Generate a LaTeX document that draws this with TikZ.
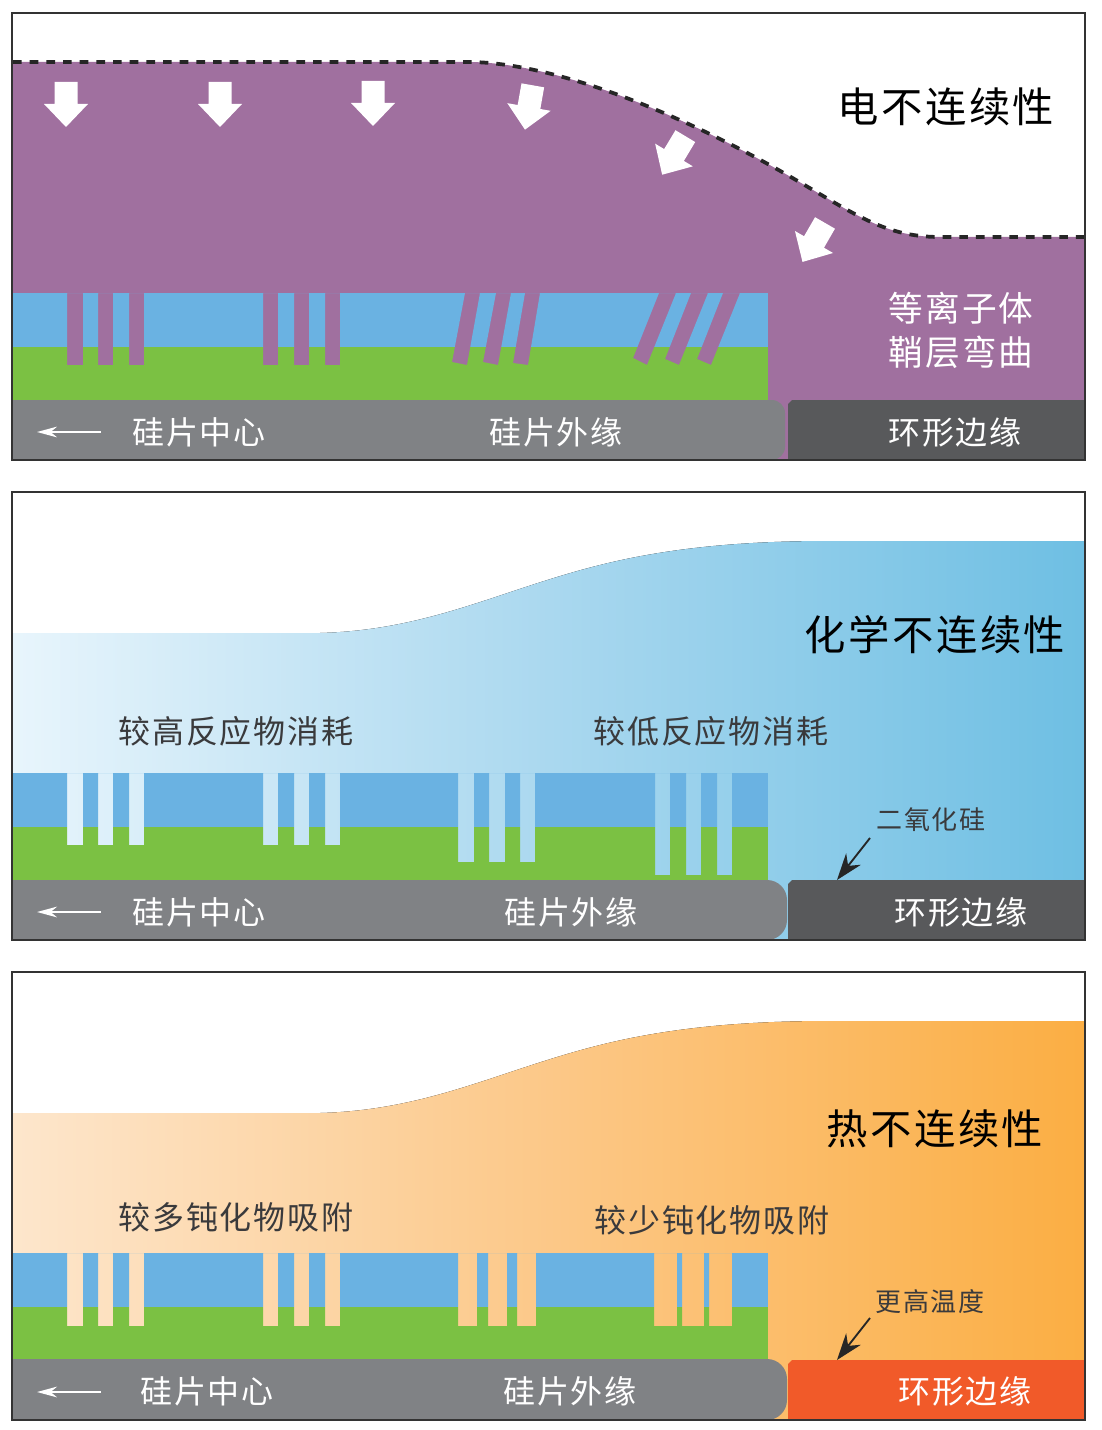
\documentclass[tikz,border=0pt]{standalone}
\usepackage{fontspec}
\setmainfont{Noto Sans CJK SC}[LetterSpace=6]
\usetikzlibrary{arrows.meta}
\definecolor{plasma}{HTML}{A0709F}
\definecolor{oxide}{HTML}{6AB2E2}
\definecolor{silicon}{HTML}{7BC143}
\definecolor{wafergrey}{HTML}{808285}
\definecolor{ringgrey}{HTML}{58595B}
\definecolor{ringhot}{HTML}{F15A29}
\definecolor{framecol}{HTML}{333333}
\definecolor{inkcol}{HTML}{3A3A3C}
\definecolor{lightblue}{HTML}{E8F5FC}
\definecolor{midblue}{HTML}{AAD8EF}
\definecolor{fieldblue}{HTML}{6EBFE3}
\definecolor{lightorange}{HTML}{FDE6CC}
\definecolor{midorange}{HTML}{FCC888}
\definecolor{fieldorange}{HTML}{FBAE43}
\tikzset{
  panelframe/.style={draw=framecol,line width=1.5pt},
  title/.style={font=\fontsize{31}{37}\selectfont,text=black,inner sep=0},
  label/.style={font=\fontsize{24}{29}\selectfont,text=inkcol,inner sep=0},
  smalllabel/.style={font=\fontsize{19.5}{24}\selectfont,text=inkcol,inner sep=0},
  onwafer/.style={font=\fontsize{24}{29}\selectfont,text=white,inner sep=0},
  sheath/.style={font=\fontsize{26}{31}\selectfont,text=white,inner sep=0},
  backarrow/.style={draw=white,line width=1.8pt,-{Stealth[length=15pt,width=8pt]}},
  pointer/.style={draw=black!85,line width=1.4pt,-{Stealth[length=20pt,width=14pt]}},
  bluefield/.style={left color=lightblue,right color=fieldblue,middle color=midblue},
  orangefield/.style={left color=lightorange,right color=fieldorange,middle color=midorange},
}
\newcommand{\waferstack}[2]{%
\begin{scope}[shift={(0,#1)},even odd rule]%
\clip (13,0) rectangle (768,107) #2;%
\fill[oxide] (13,0) rectangle (768,54);%
\fill[silicon] (13,54) rectangle (768,107);%
\end{scope}%
}
\newcommand{\platearrow}[3]{%
\fill[white,shift={(#1,#2)},rotate=#3] (-11.5,-22) -- (11.5,-22) -- (11.5,0) -- (22,0) -- (0,23) -- (-22,0) -- (-11.5,0) -- cycle;%
}
\newcommand{\straightgaps}[1]{%
(67,0) rectangle (83,#1) (98,0) rectangle (113,#1) (129,0) rectangle (144,#1)%
(263,0) rectangle (278,#1) (294,0) rectangle (309,#1) (325,0) rectangle (340,#1)%
}

\begin{document}
\begin{tikzpicture}[x=0.75pt,y=-0.75pt]%
\useasboundingbox (0,0) rectangle (1101,1430);%
\fill[white] (0,0) rectangle (1101,1430);%
\fill[plasma] (13,62) -- (470,62) .. controls (555,63) and (675,112) .. (775,168) .. controls (850,210) and (880,237) .. (940,237) -- (1085,237) -- (1085,460) -- (13,460) -- cycle;%
\draw[black!85,line width=2.8pt,dash pattern=on 6.5pt off 6pt] (13,62) -- (470,62) .. controls (555,63) and (675,112) .. (775,168) .. controls (850,210) and (880,237) .. (940,237) -- (1085,237);%
\platearrow{66}{104}{0}%
\platearrow{220}{104}{0}%
\platearrow{373}{103}{0}%
\platearrow{529}{107}{-10}%
\platearrow{674}{155}{-31}%
\platearrow{814}{242}{-30}%
\waferstack{293}{\straightgaps{72} (465,0) -- (480,0) -- (467,72) -- (452,69) -- cycle (496,0) -- (511,0) -- (498,72) -- (483,69) -- cycle (525,0) -- (540,0) -- (528,72) -- (513,70) -- cycle (659,0) -- (676,0) -- (647,72) -- (633,65) -- cycle (691,0) -- (708,0) -- (679,72) -- (665,66) -- cycle (723,0) -- (740,0) -- (711,72) -- (697,66) -- cycle}%
\fill[wafergrey] (13,400) -- (700,400) [rounded corners=10pt] -- (785,400) -- (785,460) -- (700,460) [sharp corners] -- (13,460) -- cycle;%
\fill[ringgrey] (788,460) -- (788,404) -- (792,400) -- (1085,400) -- (1085,460) -- cycle;%
\draw[panelframe] (12,13) rectangle (1085,460);%
\node[title] (elec) at (946,107) {电不连续性};%
\node[sheath] (sheathtop) at (961,308) {等离子体};%
\node[sheath] (sheathlow) at (961,352) {鞘层弯曲};%
\coordinate (backa) at (101,432);%
\coordinate (backb) at (37,432);%
\draw[backarrow] (backa) -- (backb);%
\node[onwafer] (centera) at (199,432) {硅片中心};%
\node[onwafer] (outera) at (556,432) {硅片外缘};%
\node[onwafer] (ringa) at (955,432) {环形边缘};%
\fill[bluefield] (13,633) -- (320,633) .. controls (430,630) and (500,590) .. (600,565) .. controls (680,545) and (760,541) .. (830,541) -- (1085,541) -- (1085,940) -- (13,940) -- cycle;%
\waferstack{773}{\straightgaps{72} (458,0) rectangle (474,89) (489,0) rectangle (505,89) (520,0) rectangle (535,89) (655,0) rectangle (670,102) (686,0) rectangle (701,102) (717,0) rectangle (732,102)}%
\fill[wafergrey] (13,880) -- (700,880) [rounded corners=15pt] -- (787,880) -- (787,940) -- (700,940) [sharp corners] -- (13,940) -- cycle;%
\fill[ringgrey] (788,940) -- (788,884) -- (792,880) -- (1085,880) -- (1085,940) -- cycle;%
\draw[panelframe] (12,492) rectangle (1085,940);%
\node[title] (chem) at (935,635) {化学不连续性};%
\node[label] (highuse) at (236,731) {较高反应物消耗};%
\node[label] (lowuse) at (711,731) {较低反应物消耗};%
\node[smalllabel] (oxidelabel) at (931,820) {二氧化硅};%
\coordinate (oxidefrom) at (870,838);%
\coordinate (oxideto) at (837,880);%
\draw[pointer] (oxidefrom) -- (oxideto);%
\coordinate (backc) at (101,912);%
\coordinate (backd) at (37,912);%
\draw[backarrow] (backc) -- (backd);%
\node[onwafer] (centerb) at (199,912) {硅片中心};%
\node[onwafer] (outerb) at (571,912) {硅片外缘};%
\node[onwafer] (ringb) at (961,912) {环形边缘};%
\fill[orangefield] (13,1113) -- (320,1113) .. controls (430,1110) and (500,1070) .. (600,1045) .. controls (680,1025) and (760,1021) .. (830,1021) -- (1085,1021) -- (1085,1420) -- (13,1420) -- cycle;%
\waferstack{1253}{\straightgaps{73} (458,0) rectangle (477,73) (488,0) rectangle (507,73) (517,0) rectangle (536,73) (654,0) rectangle (677,73) (682,0) rectangle (704,73) (709,0) rectangle (732,73)}%
\fill[wafergrey] (13,1359) -- (700,1359) [rounded corners=15pt] -- (787,1359) -- (787,1420) -- (700,1420) [sharp corners] -- (13,1420) -- cycle;%
\fill[ringhot] (788,1420) -- (788,1364) -- (792,1360) -- (1085,1360) -- (1085,1420) -- cycle;%
\draw[panelframe] (12,972) rectangle (1085,1420);%
\node[title] (therm) at (935,1129) {热不连续性};%
\node[label] (moreads) at (236,1217) {较多钝化物吸附};%
\node[label] (lessads) at (712,1220) {较少钝化物吸附};%
\node[smalllabel] (hotlabel) at (930,1302) {更高温度};%
\coordinate (hotfrom) at (870,1318);%
\coordinate (hotto) at (837,1360);%
\draw[pointer] (hotfrom) -- (hotto);%
\coordinate (backe) at (101,1392);%
\coordinate (backf) at (37,1392);%
\draw[backarrow] (backe) -- (backf);%
\node[onwafer] (centerc) at (207,1391) {硅片中心};%
\node[onwafer] (outerc) at (570,1391) {硅片外缘};%
\node[onwafer] (ringc) at (965,1391) {环形边缘};%
\end{tikzpicture}
\end{document}
